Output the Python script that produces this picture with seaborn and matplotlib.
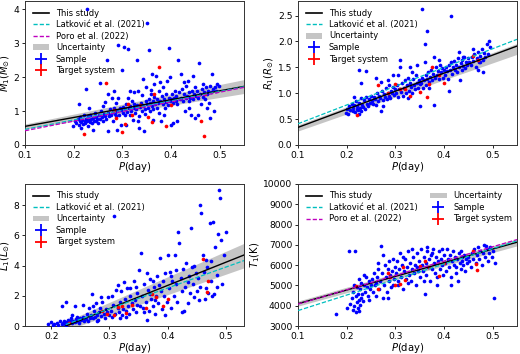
import numpy as np
import matplotlib
matplotlib.use("Agg")
import matplotlib.pyplot as plt
import seaborn as sns
from matplotlib.lines import Line2D
from matplotlib.patches import Patch

# ---------------- data ----------------
# Panel (a): M1 vs P
m_p = [0.198,0.202,0.205,0.208,0.21,0.212,0.214,0.216,0.218,0.22,0.221,0.223,0.224,0.226,0.227,0.228,0.229,0.23,0.231,0.233,0.234,0.236,0.238,0.24,0.241,0.243,0.245,0.246,0.248,0.25,0.225,0.21,0.232,0.215,0.24,
       0.252,0.254,0.256,0.258,0.26,0.262,0.264,0.265,0.267,0.268,0.27,0.271,0.273,0.275,0.276,0.278,0.28,0.281,0.283,0.285,0.286,0.288,0.29,0.291,0.292,0.294,0.295,0.297,0.298,0.3,0.255,0.27,0.282,0.26,0.289,
       0.301,0.302,0.304,0.305,0.306,0.308,0.31,0.311,0.312,0.313,0.315,0.316,0.318,0.32,0.321,0.323,0.324,0.326,0.328,0.33,0.331,0.332,0.334,0.336,0.338,0.34,0.341,0.343,0.345,0.346,0.348,0.35,0.349,0.335,0.325,0.315,0.342,0.307,0.333,0.347,
       0.351,0.352,0.354,0.355,0.356,0.357,0.358,0.36,0.361,0.362,0.364,0.365,0.366,0.368,0.37,0.371,0.372,0.374,0.375,0.376,0.378,0.38,0.381,0.383,0.384,0.386,0.388,0.389,0.39,0.392,0.393,0.395,0.396,0.397,0.398,0.399,0.385,0.363,0.377,0.359,
       0.401,0.402,0.404,0.405,0.406,0.408,0.41,0.411,0.413,0.415,0.416,0.418,0.42,0.421,0.423,0.425,0.426,0.428,0.43,0.431,0.433,0.435,0.436,0.438,0.44,0.441,0.443,0.445,0.446,0.448,0.45,0.412,0.427,0.437,0.449,
       0.452,0.454,0.456,0.458,0.46,0.461,0.463,0.465,0.466,0.468,0.47,0.472,0.474,0.476,0.478,0.48,0.481,0.483,0.485,0.486,0.488,0.49,0.492,0.495,0.498,0.455,0.475]
m_v = [0.55,0.72,0.65,0.78,0.6,0.7,0.82,0.68,0.75,0.62,0.88,0.72,0.66,0.78,4.0,0.7,0.85,0.55,0.74,0.68,0.9,0.76,0.64,0.8,0.72,0.95,0.7,0.84,0.78,0.66,1.65,1.2,1.1,0.5,0.45,
       0.88,0.76,1.0,0.82,0.7,0.92,1.28,0.86,0.78,2.5,0.95,0.4,0.85,1.05,0.9,1.4,0.98,0.72,1.1,0.92,1.25,0.85,1.0,2.95,1.38,0.9,1.08,0.6,1.02,2.2,1.82,1.5,1.6,1.15,0.45,
       0.95,1.12,2.88,0.88,1.05,1.2,0.98,1.4,2.82,1.08,0.9,1.15,1.0,1.3,0.75,1.1,1.22,0.95,1.05,2.5,1.18,1.6,0.85,1.12,1.25,1.0,1.48,1.15,0.4,1.05,1.3,3.6,1.7,0.5,1.55,1.6,1.95,0.6,0.7,0.92,
       1.2,1.1,1.35,2.8,1.0,1.25,1.5,1.15,2.1,1.3,1.05,1.42,1.8,1.2,2.05,1.1,1.35,1.25,1.6,0.95,1.3,0.7,1.45,1.2,1.7,1.35,1.1,1.5,1.28,1.9,1.18,2.85,1.4,2.0,1.3,0.6,0.9,0.75,1.85,1.62,
       1.35,1.5,1.25,0.65,1.4,1.6,1.3,1.45,1.2,2.5,1.55,1.35,2.1,1.4,1.65,1.3,1.5,1.0,1.38,1.75,1.45,1.9,1.3,1.55,1.4,0.9,1.6,2.05,1.35,1.5,0.8,0.7,1.85,1.1,1.7,
       1.45,1.6,1.38,2.42,1.5,1.2,1.65,1.42,1.8,1.55,1.35,1.7,1.5,1.6,1.25,0.8,1.75,1.55,2.1,1.65,1.0,1.72,1.6,1.8,1.75,0.9,1.1]
m_tp = [0.222,0.266,0.30,0.305,0.32,0.288,0.352,0.361,0.376,0.39,0.365,0.40,0.461,0.468,0.469,0.312,0.282,0.336]
m_tv = [0.32,1.84,0.37,0.61,0.88,0.81,0.83,0.67,2.30,0.55,1.50,1.18,0.70,0.28,1.50,1.20,1.03,1.19]

# Panel (b): R1 vs P
r_p = [0.198,0.2,0.203,0.205,0.207,0.21,0.212,0.214,0.216,0.218,0.22,0.221,0.222,0.224,0.225,0.226,0.228,0.229,0.23,0.232,0.234,0.236,0.238,0.24,0.242,0.244,0.246,0.248,0.25,0.23,0.225,0.24,0.215,
       0.252,0.254,0.256,0.258,0.26,0.262,0.264,0.266,0.268,0.27,0.272,0.274,0.276,0.278,0.28,0.282,0.284,0.286,0.288,0.29,0.292,0.294,0.296,0.298,0.3,0.26,0.27,0.275,0.285,0.295,
       0.302,0.304,0.306,0.308,0.31,0.312,0.314,0.316,0.318,0.32,0.322,0.324,0.326,0.328,0.33,0.332,0.334,0.336,0.338,0.34,0.342,0.344,0.346,0.348,0.35,0.31,0.33,0.345,0.305,0.325,0.335,
       0.352,0.354,0.355,0.356,0.358,0.36,0.362,0.364,0.365,0.366,0.368,0.37,0.372,0.374,0.376,0.378,0.38,0.382,0.384,0.386,0.388,0.39,0.392,0.394,0.396,0.398,0.4,0.36,0.38,0.37,0.39,0.35,
       0.402,0.404,0.406,0.408,0.41,0.412,0.414,0.415,0.416,0.418,0.42,0.422,0.424,0.426,0.428,0.43,0.432,0.434,0.436,0.438,0.44,0.442,0.444,0.446,0.448,0.45,0.41,0.43,0.44,
       0.452,0.455,0.458,0.46,0.462,0.465,0.468,0.47,0.472,0.475,0.478,0.48,0.482,0.485,0.488,0.49,0.492,0.495,0.47,0.48,0.46,0.475]
r_v = [0.62,0.7,0.6,0.75,0.68,0.8,0.66,0.72,0.78,0.64,0.85,0.7,0.76,0.68,1.45,0.82,0.72,0.9,0.66,0.78,0.74,0.86,0.7,0.92,0.8,0.76,0.88,0.82,0.95,1.2,0.6,1.42,0.92,
       0.85,0.8,0.92,0.88,0.78,1.0,0.84,0.95,0.9,0.65,1.05,0.86,0.98,0.92,1.1,0.88,1.0,0.95,1.15,0.9,1.05,1.0,1.12,0.96,1.08,1.3,1.22,0.75,1.25,1.35,
       1.0,1.15,0.92,1.08,1.65,1.02,1.2,0.95,1.1,1.25,1.0,1.15,1.3,1.05,1.2,1.12,1.0,1.28,1.15,1.08,1.35,1.2,1.1,1.25,1.18,1.5,1.5,1.55,1.35,0.9,1.4,
       1.2,1.3,2.62,1.1,1.25,1.95,1.35,1.15,2.2,1.28,1.4,1.22,1.32,1.45,1.25,1.38,0.78,1.3,1.5,1.35,1.42,1.28,1.55,1.4,1.48,1.3,1.45,1.6,1.7,1.1,1.65,0.75,
       1.35,1.5,1.42,1.28,1.55,1.45,1.6,2.5,1.38,1.5,1.62,1.45,1.55,1.4,1.68,1.5,1.25,1.58,1.45,1.65,1.52,1.7,1.48,1.6,1.55,1.68,1.05,1.8,1.7,
       1.6,1.55,1.7,1.62,1.75,1.5,1.68,1.8,1.6,1.72,1.85,1.65,1.78,1.7,1.95,1.75,2.0,1.9,1.45,1.4,1.85,1.6]
r_tp = [0.222,0.265,0.285,0.30,0.31,0.32,0.33,0.35,0.37,0.375,0.39,0.40,0.365,0.46,0.47]
r_tv = [0.57,1.15,1.00,1.18,1.08,1.08,0.95,1.02,1.18,1.50,1.35,1.20,0.92,1.72,1.65]

# Panel (c): L1 vs P
l_p = [0.195,0.2,0.203,0.205,0.21,0.212,0.215,0.218,0.22,0.222,0.224,0.226,0.228,0.23,0.232,0.234,0.236,0.238,0.24,0.242,0.244,0.246,0.248,0.25,0.219,0.225,0.24,0.235,0.245,0.226,
       0.252,0.254,0.256,0.258,0.26,0.262,0.264,0.266,0.268,0.27,0.271,0.273,0.275,0.277,0.279,0.28,0.282,0.284,0.286,0.288,0.29,0.292,0.294,0.296,0.298,0.3,0.255,0.265,0.272,0.285,0.278,
       0.302,0.304,0.306,0.308,0.31,0.312,0.314,0.316,0.318,0.32,0.322,0.324,0.326,0.328,0.33,0.332,0.334,0.336,0.338,0.34,0.342,0.344,0.346,0.348,0.35,0.352,0.355,0.305,0.315,0.325,0.335,0.345,0.318,0.328,0.347,
       0.356,0.358,0.36,0.362,0.364,0.366,0.368,0.37,0.372,0.374,0.376,0.378,0.38,0.382,0.384,0.386,0.388,0.39,0.392,0.394,0.396,0.398,0.4,0.365,0.375,0.385,0.395,0.359,0.369,0.379,
       0.402,0.404,0.406,0.408,0.41,0.412,0.414,0.416,0.418,0.42,0.422,0.424,0.426,0.428,0.43,0.432,0.434,0.436,0.438,0.44,0.442,0.444,0.446,0.448,0.45,0.405,0.415,0.425,0.435,0.445,
       0.452,0.454,0.456,0.458,0.46,0.462,0.464,0.466,0.468,0.47,0.472,0.474,0.476,0.478,0.48,0.482,0.484,0.486,0.488,0.49,0.492,0.494,0.496,0.5,0.475,0.455,0.465,0.485]
l_v = [0.1,0.25,0.05,0.15,0.2,0.08,0.3,0.12,0.2,0.35,0.15,0.25,0.4,0.18,0.3,0.5,0.22,0.35,0.28,0.45,0.3,0.38,0.2,0.5,1.3,1.6,1.3,0.7,0.6,0.05,
       0.4,0.6,0.35,0.5,0.45,0.8,0.3,0.55,0.7,2.1,0.5,1.0,0.6,1.5,0.75,0.4,0.9,1.2,0.65,1.6,0.8,0.55,1.1,0.9,1.9,0.7,1.4,1.2,1.3,1.9,0.3,
       1.0,0.6,1.4,7.3,0.8,2.4,1.2,0.9,1.6,2.3,0.7,1.1,1.8,1.0,2.5,1.3,0.8,2.0,1.5,1.1,3.0,1.7,0.9,2.2,3.7,1.3,4.8,2.0,2.7,2.9,2.5,2.6,0.5,0.6,1.4,
       2.0,1.2,2.8,1.6,0.4,2.4,1.0,3.1,1.8,1.3,2.6,0.8,2.0,3.3,1.5,4.5,2.3,1.1,3.0,2.0,3.5,1.6,4.7,3.5,3.0,2.7,0.7,0.9,2.1,1.7,
       2.5,3.6,1.2,3.0,2.0,4.7,2.8,1.6,6.2,5.5,3.2,2.3,3.8,1.0,2.6,4.2,1.5,3.3,2.2,6.5,3.9,2.8,1.9,3.5,2.3,3.3,3.7,0.9,2.9,4.0,
       3.2,1.7,8.0,7.5,4.7,3.6,1.8,2.5,3.9,2.2,6.8,4.3,2.0,6.9,2.1,5.2,2.6,6.1,9.0,8.5,5.7,2.8,4.7,6.2,3.0,2.6,4.4,3.4]
l_tp = [0.23,0.287,0.295,0.307,0.321,0.329,0.338,0.363,0.373,0.38,0.392,0.401,0.461,0.469,0.468,0.315]
l_tv = [0.22,0.97,0.80,0.70,1.30,0.84,1.40,1.19,2.10,1.90,1.30,1.76,4.44,2.97,2.24,1.25]

# Panel (d): T1 vs P
t_p = [0.178,0.2,0.205,0.207,0.21,0.212,0.214,0.216,0.218,0.219,0.22,0.221,0.222,0.223,0.224,0.225,0.226,0.227,0.228,0.229,0.23,0.232,0.234,0.236,0.238,0.24,0.242,0.244,0.246,0.248,0.25,0.215,0.225,0.235,0.245,
       0.252,0.254,0.256,0.258,0.26,0.262,0.264,0.266,0.268,0.27,0.272,0.274,0.276,0.278,0.28,0.282,0.284,0.286,0.288,0.29,0.292,0.294,0.296,0.298,0.3,0.265,0.275,0.285,0.295,0.26,
       0.302,0.304,0.306,0.308,0.31,0.312,0.314,0.316,0.318,0.32,0.322,0.324,0.326,0.328,0.33,0.332,0.334,0.336,0.338,0.34,0.342,0.344,0.346,0.348,0.35,0.305,0.315,0.325,0.335,0.345,0.352,
       0.354,0.356,0.358,0.36,0.362,0.364,0.366,0.368,0.37,0.372,0.374,0.376,0.378,0.38,0.382,0.384,0.386,0.388,0.39,0.392,0.394,0.396,0.398,0.4,0.365,0.375,0.385,0.395,0.359,
       0.402,0.404,0.406,0.408,0.41,0.412,0.414,0.416,0.418,0.42,0.422,0.424,0.426,0.428,0.43,0.432,0.434,0.436,0.438,0.44,0.442,0.444,0.446,0.448,0.45,0.415,0.435,0.425,
       0.452,0.455,0.458,0.46,0.462,0.465,0.468,0.47,0.472,0.475,0.478,0.48,0.482,0.485,0.488,0.49,0.492,0.495,0.5,0.502,0.505,0.498,0.487]
t_v = [3600,3900,6700,4100,4400,3800,4700,4000,6700,3700,4500,4200,4900,3900,4600,5300,4300,4050,4800,4400,5100,4600,4250,5000,4700,5400,4900,4500,5200,4800,5000,5000,3750,5500,4300,
       5300,4700,5600,5000,4500,5400,5800,4800,5200,6950,5600,4400,5000,6000,5400,4700,5800,5200,6200,5500,4900,5700,6300,5300,5900,6100,6500,4400,5000,5100,
       5600,6200,5000,5800,6600,5400,6000,4800,5700,6300,5300,5900,6700,5500,6100,5200,5800,6400,5600,6000,5000,6600,5700,6200,5400,5200,6400,5100,6800,5900,6800,
       6000,5700,6400,4600,6100,5500,6700,5900,6300,5200,6500,5800,6800,6100,5600,6400,5000,6200,6700,5800,6300,6000,5500,6500,6900,6600,5400,6800,5200,
       6100,5700,6800,6300,5900,6500,5400,6200,6700,6000,6400,5600,6300,5200,6600,6100,5800,6400,6200,6000,6500,5700,6300,6100,6400,5000,6700,5900,
       6200,5900,6600,6300,6800,6100,6500,6900,6300,6700,6000,6600,7000,6400,6800,6200,6600,6900,6700,4400,6100,6400,6950]
t_tp = [0.22,0.265,0.285,0.29,0.30,0.31,0.315,0.32,0.35,0.36,0.37,0.39,0.40,0.46,0.465,0.468]
t_tv = [4950,4800,5600,5400,5000,5050,5900,5250,5950,6200,5900,5450,6100,6700,6050,5750]

# Fitted relations (end points)
fit_p = [0.1, 0.55]
m_this, m_lat, m_poro = [0.55, 1.73], [0.46, 1.72], [0.42, 1.70]
m_lo, m_hi = [0.47, 1.52], [0.62, 1.93]
r_this, r_lat = [0.34, 1.91], [0.41, 2.04]
r_lo, r_hi = [0.27, 1.75], [0.39, 1.96]
fit_pl = [0.225, 0.531]
l_this, l_lat = [0.0, 4.70], [0.10, 4.33]
l_lo, l_hi = [-0.3, 3.85], [0.3, 5.47]
t_this, t_lat, t_poro = [4100, 7130], [3760, 7200], [4080, 7260]
t_lo, t_hi = [3980, 6950], [4230, 7300]

# ---------------- figure ----------------
plt.rcParams['font.family'] = ['DejaVu Sans']
fig = plt.figure(figsize=(5.2, 3.54), dpi=100)
W, H = 520.0, 354.0
def box(l, r, t, b):
    return [l / W, (H - b) / H, (r - l) / W, (b - t) / H]

axes = [fig.add_axes(box(25, 244, 1, 145)), fig.add_axes(box(298, 517, 1, 145)),
        fig.add_axes(box(25, 244, 184, 326)), fig.add_axes(box(298, 517, 184, 326))]

CY, MG = '#00bfbf', '#bf00bf'
TICK_FS, LAB_FS, LEG_FS = 6.6, 7.2, 6.0

def panel(ax, px, py, tx, ty, fx, this, lat, poro, lo, hi):
    ax.fill_between(fx, lo, hi, color='gray', alpha=0.45, linewidth=0, zorder=1)
    sns.scatterplot(x=px, y=py, ax=ax, color='blue', s=7, linewidth=0, legend=False, zorder=3)
    sns.scatterplot(x=tx, y=ty, ax=ax, color='red', s=7, linewidth=0, legend=False, zorder=4)
    ax.plot(fx, this, color='black', lw=1.0, zorder=5)
    ax.plot(fx, lat, color=CY, lw=0.9, ls='--', dashes=(3.5, 1.5), zorder=5)
    if poro is not None:
        ax.plot(fx, poro, color=MG, lw=0.9, ls='--', dashes=(3.5, 1.5), zorder=5)
    ax.tick_params(labelsize=TICK_FS, length=2.5, width=0.6, pad=1.5)
    for s in ax.spines.values():
        s.set_linewidth(0.7)
        s.set_color('#333333')
    ax.set_xlabel('$P$(day)', fontsize=LAB_FS, labelpad=0)

h_this = Line2D([], [], color='black', lw=1.2)
h_lat = Line2D([], [], color=CY, lw=1.0, ls='--', dashes=(3, 1.5))
h_poro = Line2D([], [], color=MG, lw=1.0, ls='--', dashes=(3, 1.5))
h_unc = Patch(facecolor='gray', alpha=0.45, linewidth=0)
h_s = Line2D([], [], color='blue', marker='+', ms=8, mew=1.3, ls='none')
h_t = Line2D([], [], color='red', marker='+', ms=8, mew=1.3, ls='none')
lab = ['This study', 'Latković et al. (2021)', 'Poro et al. (2022)', 'Uncertainty', 'Sample', 'Target system']
legkw = dict(frameon=False, fontsize=LEG_FS, labelspacing=0.3, handlelength=2.0,
             handletextpad=0.8, loc='upper left')

ax = axes[0]
panel(ax, m_p, m_v, m_tp, m_tv, fit_p, m_this, m_lat, m_poro, m_lo, m_hi)
ax.set_xlim(0.1, 0.55); ax.set_ylim(0, 4.25)
ax.set_xticks([0.1, 0.2, 0.3, 0.4, 0.5]); ax.set_yticks([0, 1, 2, 3, 4])
ax.set_ylabel(r'$M_1(M_{\odot})$', fontsize=LAB_FS, labelpad=1)
ax.legend([h_this, h_lat, h_poro, h_unc, h_s, h_t], lab, **legkw)

ax = axes[1]
panel(ax, r_p, r_v, r_tp, r_tv, fit_p, r_this, r_lat, None, r_lo, r_hi)
ax.set_xlim(0.1, 0.55); ax.set_ylim(0, 2.78)
ax.set_xticks([0.1, 0.2, 0.3, 0.4, 0.5]); ax.set_yticks([0, 0.5, 1.0, 1.5, 2.0, 2.5])
ax.set_ylabel(r'$R_1(R_{\odot})$', fontsize=LAB_FS, labelpad=1)
ax.legend([h_this, h_lat, h_unc, h_s, h_t], [lab[0], lab[1], lab[3], lab[4], lab[5]], **legkw)

ax = axes[2]
panel(ax, l_p, l_v, l_tp, l_tv, fit_pl, l_this, l_lat, None, l_lo, l_hi)
ax.set_xlim(0.155, 0.531); ax.set_ylim(0, 9.4)
ax.set_xticks([0.2, 0.3, 0.4, 0.5]); ax.set_yticks([0, 2, 4, 6, 8])
ax.set_ylabel(r'$L_1(L_{\odot})$', fontsize=LAB_FS, labelpad=1)
ax.legend([h_this, h_lat, h_unc, h_s, h_t], [lab[0], lab[1], lab[3], lab[4], lab[5]], **legkw)

ax = axes[3]
panel(ax, t_p, t_v, t_tp, t_tv, fit_p, t_this, t_lat, t_poro, t_lo, t_hi)
ax.set_xlim(0.1, 0.55); ax.set_ylim(3000, 10000)
ax.set_xticks([0.1, 0.2, 0.3, 0.4, 0.5]); ax.set_yticks(range(3000, 10001, 1000))
ax.set_ylabel(r'$T_1$(K)', fontsize=LAB_FS, labelpad=1)
ax.legend([h_this, h_lat, h_poro, h_unc, h_s, h_t], lab, ncol=2, columnspacing=1.5, **legkw)

fig.savefig('out.png', dpi=100)
